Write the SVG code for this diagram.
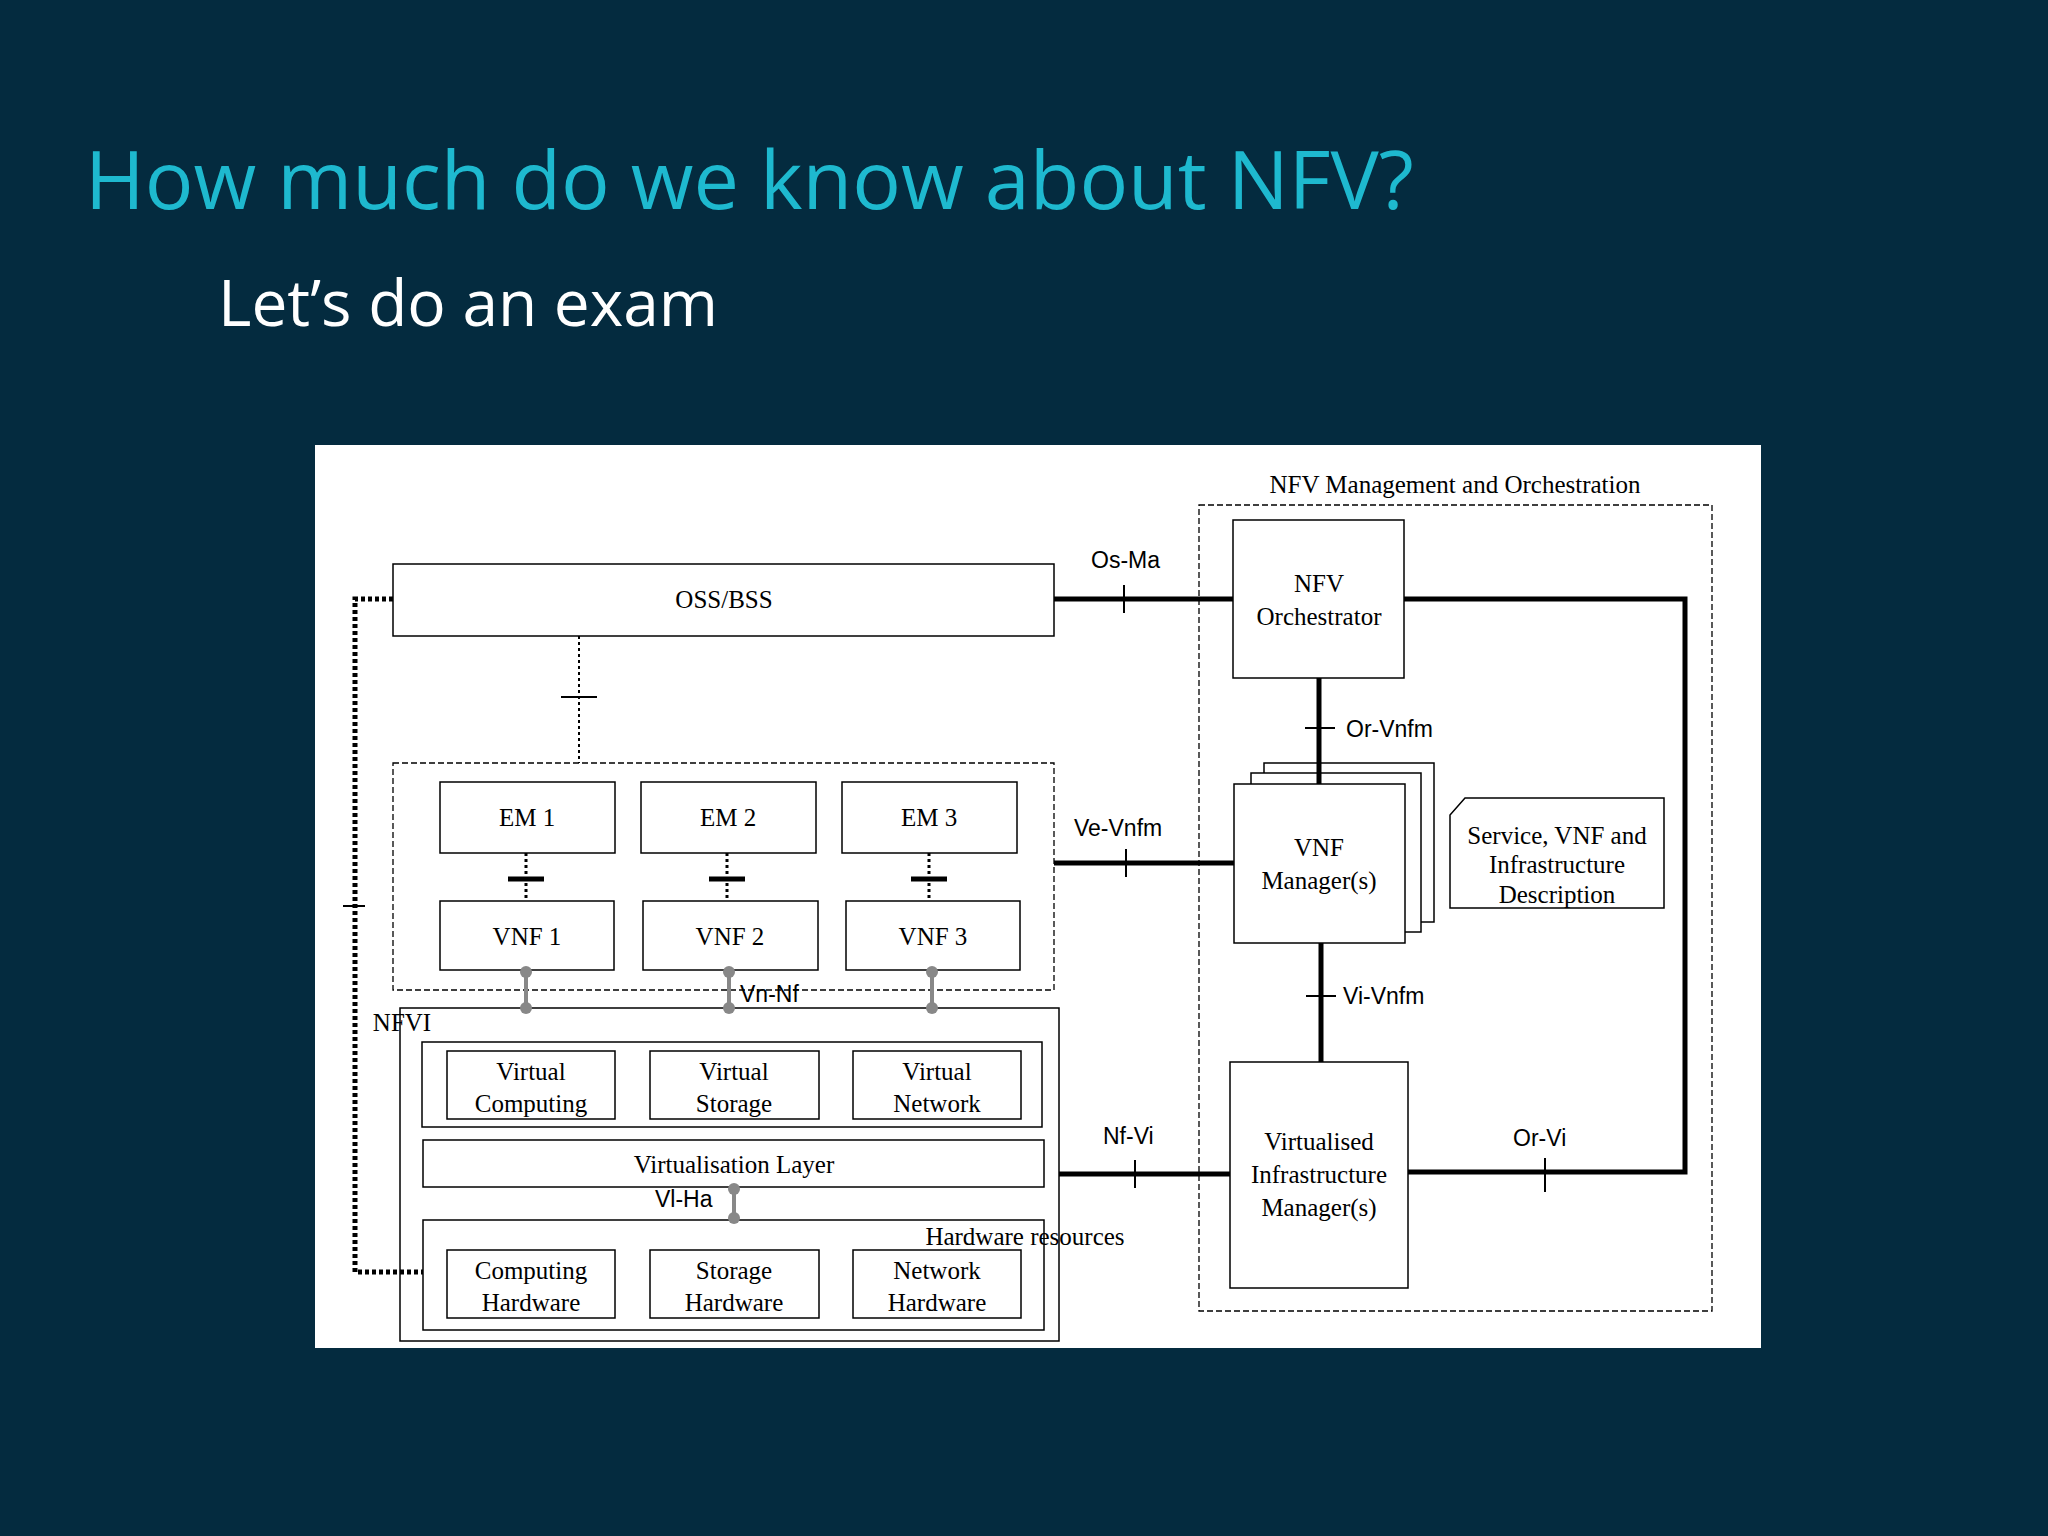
<svg xmlns="http://www.w3.org/2000/svg" width="2048" height="1536" viewBox="0 0 2048 1536">
<style>
.b{fill:#fff;stroke:#000;stroke-width:1.5}
.d{fill:none;stroke:#000;stroke-width:1.3;stroke-dasharray:6,3}
.s{font-family:"Liberation Serif",serif;font-size:25px;fill:#000;text-anchor:middle}
.l{font-family:"Liberation Sans",sans-serif;font-size:23px;fill:#000}
.k{stroke:#000;stroke-width:5;fill:none}
.t{stroke:#000;stroke-width:2}
.g{stroke:#888;stroke-width:4}
</style>
<rect width="2048" height="1536" fill="#042b3f"/>
<text x="85" y="209" font-family="Open Sans,sans-serif" font-size="81" fill="#1eb9cf">How much do we know about NFV?</text>
<text x="218" y="326" font-family="Open Sans,sans-serif" font-size="64" fill="#fff">Let’s do an exam</text>
<rect x="315" y="445" width="1446" height="903" fill="#fff"/>
<g id="mano"><rect class="d" x="1199" y="505" width="513" height="806"/><text class="s" x="1455" y="493">NFV Management and Orchestration</text></g>
<g id="oss"><rect class="b" x="393" y="564" width="661" height="72"/><text class="s" x="724" y="608">OSS/BSS</text></g>
<g id="orch"><rect class="b" x="1233" y="520" width="171" height="158"/><text class="s" x="1319" y="592">NFV</text><text class="s" x="1319" y="625">Orchestrator</text></g>
<g id="vnfm"><rect class="b" x="1264" y="763" width="170" height="159"/><rect class="b" x="1251" y="773" width="170" height="159"/><rect class="b" x="1234" y="784" width="171" height="159"/><text class="s" x="1319" y="856">VNF</text><text class="s" x="1319" y="889">Manager(s)</text></g>
<g id="desc"><path class="b" d="M1465 798H1664V908H1450V815Z"/><text class="s" x="1557" y="844" font-size="23">Service, VNF and</text><text class="s" x="1557" y="873" font-size="23">Infrastructure</text><text class="s" x="1557" y="903" font-size="23">Description</text></g>
<g id="vim"><rect class="b" x="1230" y="1062" width="178" height="226"/><text class="s" x="1319" y="1150">Virtualised</text><text class="s" x="1319" y="1183">Infrastructure</text><text class="s" x="1319" y="1216">Manager(s)</text></g>
<g id="vnfbox"><rect class="d" x="393" y="763" width="661" height="227"/></g>
<g id="em1"><rect class="b" x="440" y="782" width="175" height="71"/><text class="s" x="527" y="826">EM 1</text></g>
<g id="em2"><rect class="b" x="641" y="782" width="175" height="71"/><text class="s" x="728" y="826">EM 2</text></g>
<g id="em3"><rect class="b" x="842" y="782" width="175" height="71"/><text class="s" x="929" y="826">EM 3</text></g>
<g id="vnf1"><rect class="b" x="440" y="901" width="174" height="69"/><text class="s" x="527" y="945">VNF 1</text></g>
<g id="vnf2"><rect class="b" x="643" y="901" width="175" height="69"/><text class="s" x="730" y="945">VNF 2</text></g>
<g id="vnf3"><rect class="b" x="846" y="901" width="174" height="69"/><text class="s" x="933" y="945">VNF 3</text></g>
<g id="nfvi"><rect class="b" x="400" y="1008" width="659" height="333"/><text class="s" x="402" y="1031" text-anchor="start">NFVI</text>
<rect class="b" x="422" y="1042" width="620" height="85"/>
<rect class="b" x="447" y="1051" width="168" height="68"/><text class="s" x="531" y="1080">Virtual</text><text class="s" x="531" y="1112">Computing</text>
<rect class="b" x="650" y="1051" width="169" height="68"/><text class="s" x="734" y="1080">Virtual</text><text class="s" x="734" y="1112">Storage</text>
<rect class="b" x="853" y="1051" width="168" height="68"/><text class="s" x="937" y="1080">Virtual</text><text class="s" x="937" y="1112">Network</text>
<rect class="b" x="423" y="1140" width="621" height="47"/><text class="s" x="734" y="1173">Virtualisation Layer</text>
<rect class="b" x="423" y="1220" width="621" height="110"/><text class="s" x="1025" y="1245" text-anchor="end">Hardware resources</text>
<rect class="b" x="447" y="1250" width="168" height="68"/><text class="s" x="531" y="1279">Computing</text><text class="s" x="531" y="1311">Hardware</text>
<rect class="b" x="650" y="1250" width="169" height="68"/><text class="s" x="734" y="1279">Storage</text><text class="s" x="734" y="1311">Hardware</text>
<rect class="b" x="853" y="1250" width="168" height="68"/><text class="s" x="937" y="1279">Network</text><text class="s" x="937" y="1311">Hardware</text></g>
<g id="connectors">
<path d="M393 599H355V1272H423" fill="none" stroke="#000" stroke-width="5" stroke-dasharray="4,3"/>
<line class="t" x1="343" y1="906" x2="365" y2="906"/>
<line x1="579" y1="636" x2="579" y2="763" stroke="#000" stroke-width="2" stroke-dasharray="3,3"/>
<line class="t" x1="561" y1="697" x2="597" y2="697"/>
<g stroke="#000" stroke-width="3" stroke-dasharray="3,3"><line x1="526" y1="853" x2="526" y2="901"/><line x1="727" y1="853" x2="727" y2="901"/><line x1="929" y1="853" x2="929" y2="901"/></g>
<g stroke="#000" stroke-width="5"><line x1="508" y1="879" x2="544" y2="879"/><line x1="709" y1="879" x2="745" y2="879"/><line x1="911" y1="879" x2="947" y2="879"/></g>
<g class="g"><line x1="526" y1="972" x2="526" y2="1008"/><line x1="729" y1="972" x2="729" y2="1008"/><line x1="932" y1="972" x2="932" y2="1008"/><line x1="734" y1="1187" x2="734" y2="1220"/></g>
<g fill="#888"><circle cx="526" cy="972" r="6"/><circle cx="526" cy="1008" r="6"/><circle cx="729" cy="972" r="6"/><circle cx="729" cy="1008" r="6"/><circle cx="932" cy="972" r="6"/><circle cx="932" cy="1008" r="6"/><circle cx="734" cy="1189" r="6"/><circle cx="734" cy="1218" r="6"/></g>
<text class="l" x="740" y="1002">Vn-Nf</text>
<text class="l" x="655" y="1207">Vl-Ha</text>
<line class="k" x1="1054" y1="599" x2="1233" y2="599"/><line class="t" x1="1124" y1="585" x2="1124" y2="613"/><text class="l" x="1091" y="568">Os-Ma</text>
<path class="k" d="M1404 599H1685V1172H1408"/><line class="t" x1="1545" y1="1158" x2="1545" y2="1192"/><text class="l" x="1513" y="1146">Or-Vi</text>
<line class="k" x1="1319" y1="678" x2="1319" y2="784"/><line class="t" x1="1305" y1="728" x2="1335" y2="728"/><text class="l" x="1346" y="737">Or-Vnfm</text>
<line class="k" x1="1321" y1="943" x2="1321" y2="1062"/><line class="t" x1="1306" y1="996" x2="1336" y2="996"/><text class="l" x="1343" y="1004">Vi-Vnfm</text>
<line class="k" x1="1054" y1="863" x2="1234" y2="863"/><line class="t" x1="1126" y1="849" x2="1126" y2="877"/><text class="l" x="1074" y="836">Ve-Vnfm</text>
<line class="k" x1="1059" y1="1174" x2="1230" y2="1174"/><line class="t" x1="1135" y1="1160" x2="1135" y2="1188"/><text class="l" x="1103" y="1144">Nf-Vi</text>
</g>
</svg>
